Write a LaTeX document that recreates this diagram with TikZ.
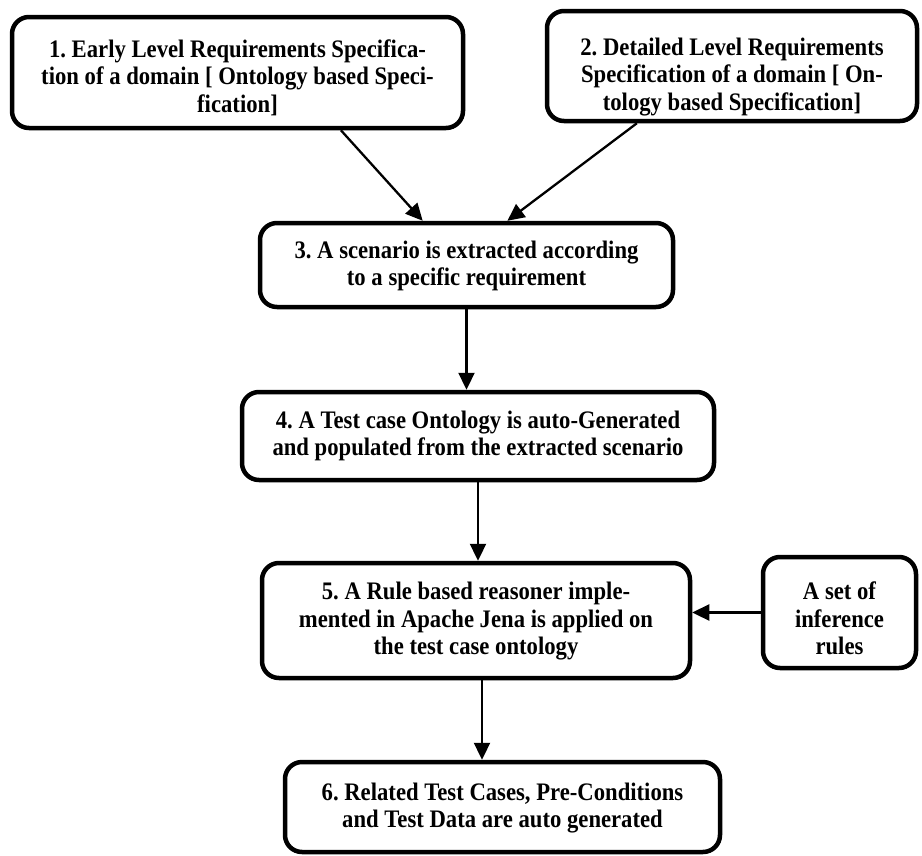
\documentclass[tikz,border=0pt]{standalone}
\usepackage{fontspec}
\setmainfont{Liberation Serif}
\newfontfamily\boxfont{Liberation Serif}[FakeStretch=0.9]
\usetikzlibrary{arrows.meta,calc}
\begin{document}
\frenchspacing
\begin{tikzpicture}[x=1pt,y=-1pt,
  box/.style={draw, line width=4.5pt, rounded corners=17pt, inner sep=0pt},
  txt/.style={inner sep=0pt, align=center,
    font=\boxfont\fontsize{25.2}{27.5}\selectfont\bfseries},
  conn/.style={line width=2.3pt, -{Triangle[length=17pt,width=16pt]}}]
\useasboundingbox (0,0) rectangle (922,855);
% boxes
\node[box, minimum width=451pt, minimum height=111pt] (b1) at (237.5,72.5) {};
\node[box, minimum width=370pt, minimum height=110pt] (b2) at (732,66) {};
\node[box, minimum width=413pt, minimum height=84pt] (b3) at (466.5,265) {};
\node[box, minimum width=472pt, minimum height=88pt] (b4) at (478,436) {};
\node[box, minimum width=428pt, minimum height=115pt] (b5) at (476,620.5) {};
\node[box, minimum width=153pt, minimum height=111pt] (bA) at (839.5,612.5) {};
\node[box, minimum width=435pt, minimum height=90pt] (b6) at (502.5,807) {};
% texts
\node[txt] (t1) at ($(b1)+(0,5)$)
  {1. Early Level Requirements Specifica-\\tion of a domain [ Ontology based Speci-\\fication]};
\node[txt] (t2) at ($(b2)+(0,11)$)
  {2. Detailed Level Requirements\\Specification of a domain [ On-\\tology based Specification]};
\node[txt] (t3) at ($(b3)+(0,1)$)
  {3. A scenario is extracted according\\to a specific requirement};
\node[txt] (t4) at ($(b4)+(0,0)$)
  {4. A Test case Ontology is auto-Generated\\and populated from the extracted scenario};
\node[txt] (t5) at ($(b5)+(0,1)$)
  {5. A Rule based reasoner imple-\\mented in Apache Jena is applied on\\the test case ontology};
\node[txt] (tA) at ($(bA)+(0,6)$)
  {A set of\\inference\\rules};
\node[txt] (t6) at ($(b6)+(0,1)$)
  {6. Related Test Cases, Pre-Conditions\\and Test Data are auto generated};
% connectors
\draw[conn] ($(b1.south west)!0.727!(b1.south east)$) -- ($(b3.north west)!0.395!(b3.north east)$);
\draw[conn] ($(b2.south west)!0.246!(b2.south east)$) -- ($(b3.north west)!0.598!(b3.north east)$);
\draw[conn] (b3.south) -- (b3.south |- b4.north);
\draw[conn] (b4.south) -- (b4.south |- b5.north);
\coordinate (s56) at ($(b5.south)+(6,0)$);
\draw[conn] (s56) -- (s56 |- b6.north);
\draw[conn] (bA.west) -- (bA.west -| b5.east);
\end{tikzpicture}
\end{document}
